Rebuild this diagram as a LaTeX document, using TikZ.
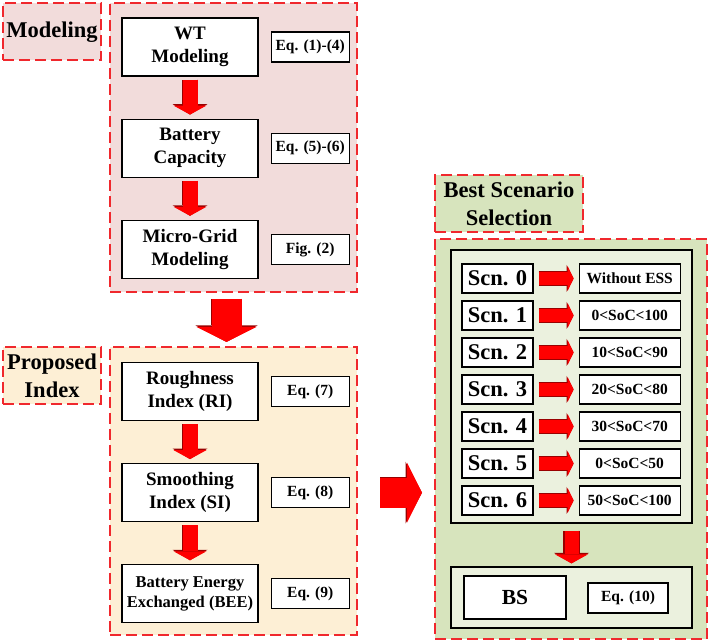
\documentclass[tikz,border=0pt]{standalone}
\usepackage{fontspec}
\setmainfont{Liberation Serif}
\usetikzlibrary{positioning,arrows.meta}

\definecolor{modfill}{HTML}{F2DCDB}
\definecolor{idxfill}{HTML}{FDEFD5}
\definecolor{bssfill}{HTML}{D7E4BD}
\definecolor{scnfill}{HTML}{EBF1DE}
\definecolor{dashred}{HTML}{F0282D}

\tikzset{
  grp/.style={draw=dashred, line width=2pt, dash pattern=on 11pt off 5pt, inner sep=0pt},
  grplabel/.style={grp, align=center, minimum height=57pt,
    font=\fontsize{22.5}{28}\selectfont\bfseries},
  plainbox/.style={draw=black, line width=1.2pt, fill=white, inner sep=0pt, align=center},
  stepbox/.style={plainbox, minimum width=136pt, minimum height=58pt,
    font=\fontsize{19}{23}\selectfont\bfseries},
  eqbox/.style={plainbox, minimum width=78pt, minimum height=30pt,
    font=\fontsize{15.5}{18}\selectfont\bfseries},
  scnbox/.style={plainbox, minimum width=71pt, minimum height=29pt,
    font=\fontsize{22.5}{26}\selectfont\bfseries},
  socbox/.style={plainbox, minimum width=101pt, minimum height=29pt,
    font=\fontsize{15.5}{18}\selectfont\bfseries},
  flow/.style={red, line width=15pt,
    -{Triangle[width=33pt,length=9pt,line width=0pt]},
    preaction={draw=red!60!black, line width=16.5pt,
      -{Triangle[width=35pt,length=10.5pt,line width=0pt]}}},
  sideflow/.style={red, line width=13pt,
    -{Triangle[width=25pt,length=6pt,line width=0pt]},
    preaction={draw=red!60!black, line width=14.5pt,
      -{Triangle[width=27pt,length=7pt,line width=0pt]}}},
  bigflow/.style={red, line width=30pt,
    -{Triangle[width=60pt,length=15pt,line width=0pt]},
    preaction={draw=red!60!black, line width=31.5pt,
      -{Triangle[width=62pt,length=16.5pt,line width=0pt]}}}
}

\begin{document}
\begin{tikzpicture}[x=1pt,y=1pt]
\useasboundingbox (0,0) rectangle (712,644);

% group frames
\node[grp, fill=modfill, minimum width=247pt, minimum height=289pt] (modbox) at (233.5,496.5) {};
\node[grp, fill=idxfill, minimum width=247pt, minimum height=288pt] (idxbox) at (233.5,153) {};
\node[grp, fill=bssfill, minimum width=272pt, minimum height=400pt] (bssbox) at (571,205) {};
\node[grplabel, fill=modfill, minimum width=98pt] (modlab) at (52,612) {Modeling};
\node[grplabel, fill=idxfill, minimum width=98pt] (idxlab) at (52,268.5) {Proposed\\Index};
\node[grplabel, fill=bssfill, minimum width=148pt] (bsslab) at (509,440.5) {Best Scenario\\Selection};

% modeling
\node[stepbox] (wt) at (190,597) {WT\\Modeling};
\node[stepbox, below=42pt of wt] (bat) {Battery\\Capacity};
\node[stepbox, below=42pt of bat] (mg) {Micro-Grid\\Modeling};
\node[eqbox, right=12pt of wt] (eq14) {Eq. (1)-(4)};
\node[eqbox, right=12pt of bat] (eq56) {Eq. (5)-(6)};
\node[eqbox, right=12pt of mg] (fig2) {Fig. (2)};
\draw[flow, shorten <=3pt, shorten >=4pt] (wt) -- (bat);
\draw[flow, shorten <=3pt, shorten >=4pt] (bat) -- (mg);

% proposed index
\node[stepbox] (ri) at (190,252.5) {Roughness\\Index (RI)};
\node[stepbox, below=42pt of ri] (si) {Smoothing\\Index (SI)};
\node[stepbox, below=42pt of si, font=\fontsize{16.5}{20.5}\selectfont\bfseries] (bee) {Battery Energy\\Exchanged (BEE)};
\node[eqbox, right=12pt of ri] (eq7) {Eq. (7)};
\node[eqbox, right=12pt of si] (eq8) {Eq. (8)};
\node[eqbox, right=12pt of bee] (eq9) {Eq. (9)};
\draw[flow, shorten <=3pt, shorten >=4pt] (ri) -- (si);
\draw[flow, shorten <=3pt, shorten >=4pt] (si) -- (bee);

\draw[bigflow, shorten <=6pt, shorten >=4pt] ([xshift=-7pt]modbox.south) -- ([xshift=-7pt]idxbox.north);
\draw[bigflow, shorten <=22pt, shorten >=12pt] (si -| idxbox.east) -- (si -| bssbox.west);

% best scenario selection
\node[plainbox, fill=scnfill, minimum width=241pt, minimum height=273pt] (scnframe) at (571.5,257.5) {};
\foreach \i/\soc in {0/Without ESS,1/0<SoC<100,2/10<SoC<90,3/20<SoC<80,4/30<SoC<70,5/0<SoC<50,6/50<SoC<100}{
  \node[scnbox] (scn\i) at (497.5,{365.5-37*\i}) {Scn. \i};
  \node[socbox, right=45pt of scn\i] (soc\i) {\soc};
  \draw[sideflow, shorten <=5pt, shorten >=5pt] (scn\i) -- (soc\i);
}
\node[plainbox, fill=scnfill, minimum width=241pt, minimum height=61pt] (bsrow) at (571.5,46.5) {};
\node[plainbox, minimum width=102pt, minimum height=43pt, font=\fontsize{21.5}{24}\selectfont\bfseries] (bs) at (515,46.5) {BS};
\node[eqbox, minimum width=80pt] (eq10) at (628,46) {Eq. (10)};
\draw[flow, line width=14pt, shorten <=7pt, shorten >=3pt] (scnframe) -- (bsrow);
\end{tikzpicture}
\end{document}
